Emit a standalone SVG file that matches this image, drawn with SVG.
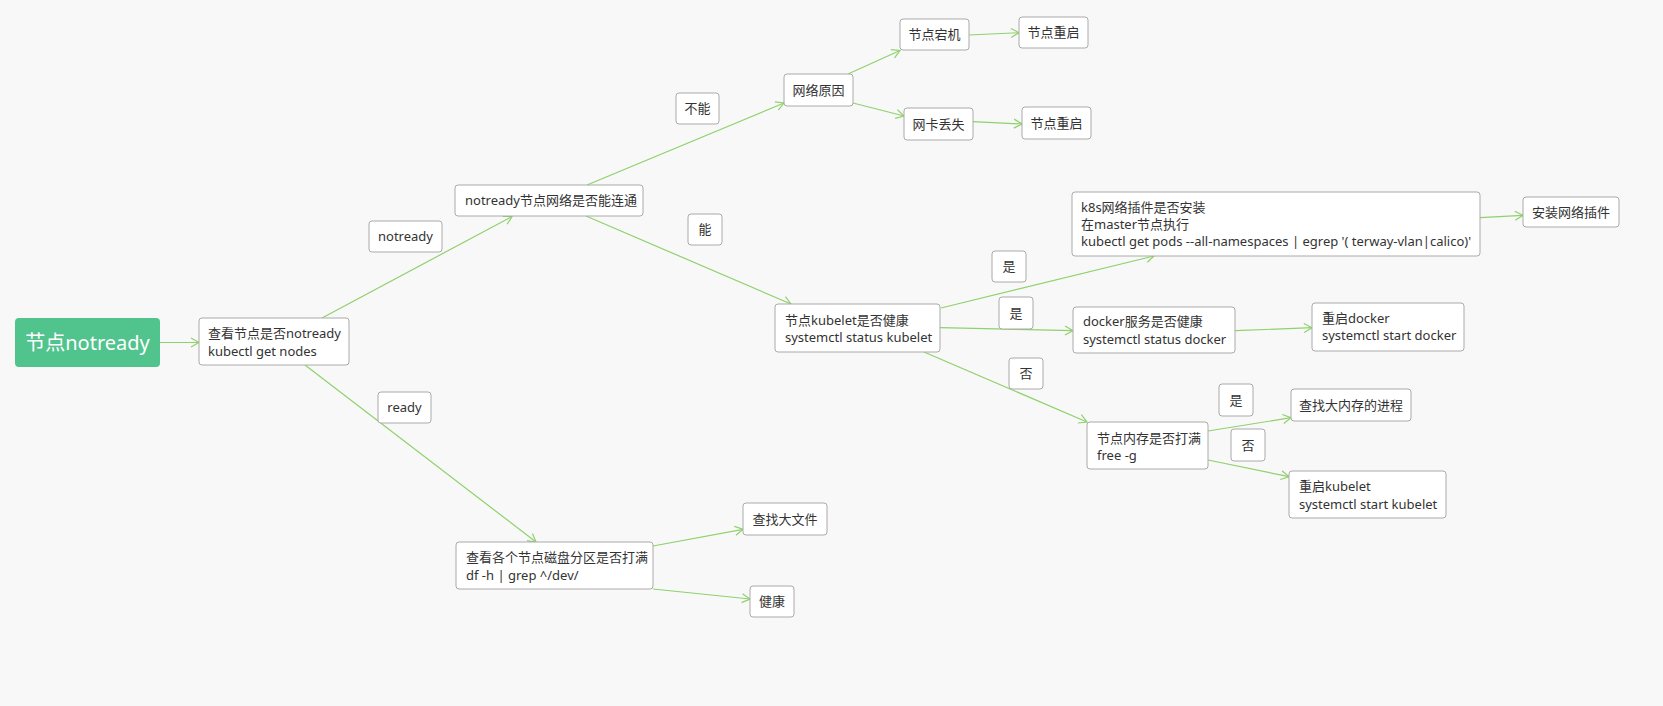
<svg xmlns="http://www.w3.org/2000/svg" width="1663" height="706" viewBox="0 0 1663 706">
<style>
.box{fill:#ffffff;stroke:#aaaaaa;stroke-width:1}
.t{font-family:"Noto Sans","Noto Sans CJK SC",sans-serif;font-size:13px;fill:#333333}
.edge{stroke:#8fd16c;stroke-width:1.2;fill:none;marker-end:url(#arr)}
</style>
<defs>
<marker id="arr" markerUnits="userSpaceOnUse" viewBox="-10 -6 12 12" refX="0" refY="0" markerWidth="12" markerHeight="12" orient="auto">
<path d="M-8,-4.5 L0,0 L-8,4.5" fill="none" stroke="#8fd16c" stroke-width="1.2"/>
</marker>
</defs>
<rect x="0" y="0" width="1663" height="706" fill="#f8f8f8"/>
<g id="connectors">
<line class="edge" x1="160" y1="342.5" x2="199" y2="342.5"/>
<line class="edge" x1="322" y1="318" x2="512" y2="216.5"/>
<line class="edge" x1="305" y1="365" x2="536" y2="542"/>
<line class="edge" x1="587" y1="185" x2="784" y2="103"/>
<line class="edge" x1="848" y1="74" x2="900" y2="50.5"/>
<line class="edge" x1="853" y1="103" x2="904" y2="116"/>
<line class="edge" x1="969" y1="35" x2="1019" y2="32.7"/>
<line class="edge" x1="973" y1="121.7" x2="1022" y2="124"/>
<line class="edge" x1="586" y1="216" x2="791" y2="304"/>
<line class="edge" x1="941" y1="308" x2="1154" y2="256"/>
<line class="edge" x1="940" y1="327.7" x2="1073" y2="330.7"/>
<line class="edge" x1="924" y1="352" x2="1087" y2="422"/>
<line class="edge" x1="1480" y1="217.7" x2="1523" y2="215.3"/>
<line class="edge" x1="1235" y1="330.7" x2="1312" y2="327.7"/>
<line class="edge" x1="1208" y1="431" x2="1291" y2="417.7"/>
<line class="edge" x1="1208" y1="460" x2="1289" y2="476.7"/>
<line class="edge" x1="653" y1="546" x2="743" y2="529.3"/>
<line class="edge" x1="653" y1="589" x2="750" y2="599"/>
</g>
<g id="root">
<rect x="15" y="318" width="145" height="49" rx="4" fill="#50c48c"/>
<text x="87.5" y="349.5" text-anchor="middle" style="font-family:'Noto Sans','Noto Sans CJK SC',sans-serif;font-size:20px;fill:#ffffff">节点notready</text>
</g>
<g id="n1">
<rect class="box" x="199" y="318" width="150" height="47" rx="3"/>
<text class="t" x="208" y="338">查看节点是否notready</text>
<text class="t" x="208" y="355.5">kubectl get nodes</text>
</g>
<g id="lbl-notready">
<rect class="box" x="369" y="221" width="73" height="31" rx="3"/>
<text class="t" x="405.5" y="241" text-anchor="middle">notready</text>
</g>
<g id="lbl-ready">
<rect class="box" x="378" y="392" width="53" height="31" rx="3"/>
<text class="t" x="404.5" y="412" text-anchor="middle">ready</text>
</g>
<g id="net">
<rect class="box" x="455" y="185" width="188" height="31" rx="3"/>
<text class="t" x="465" y="205">notready节点网络是否能连通</text>
</g>
<g id="lbl-buneng">
<rect class="box" x="676" y="93" width="43" height="31" rx="3"/>
<text class="t" x="697.5" y="113" text-anchor="middle">不能</text>
</g>
<g id="netcause">
<rect class="box" x="784" y="74" width="69" height="32" rx="3"/>
<text class="t" x="818.5" y="94.5" text-anchor="middle">网络原因</text>
</g>
<g id="down">
<rect class="box" x="900" y="19" width="69" height="31" rx="3"/>
<text class="t" x="934.5" y="39" text-anchor="middle">节点宕机</text>
</g>
<g id="reboot1">
<rect class="box" x="1019" y="17" width="69" height="31" rx="3"/>
<text class="t" x="1053.5" y="37" text-anchor="middle">节点重启</text>
</g>
<g id="nic">
<rect class="box" x="904" y="108" width="69" height="32" rx="3"/>
<text class="t" x="938.5" y="128.5" text-anchor="middle">网卡丢失</text>
</g>
<g id="reboot2">
<rect class="box" x="1022" y="107" width="69" height="32" rx="3"/>
<text class="t" x="1056.5" y="127.5" text-anchor="middle">节点重启</text>
</g>
<g id="lbl-neng">
<rect class="box" x="688" y="214" width="34" height="31" rx="3"/>
<text class="t" x="705" y="234" text-anchor="middle">能</text>
</g>
<g id="kubelet">
<rect class="box" x="775" y="304" width="165" height="48" rx="3"/>
<text class="t" x="785" y="324.5">节点kubelet是否健康</text>
<text class="t" x="785" y="342">systemctl status kubelet</text>
</g>
<g id="lbl-yes1">
<rect class="box" x="992" y="251" width="34" height="31" rx="3"/>
<text class="t" x="1009" y="271" text-anchor="middle">是</text>
</g>
<g id="lbl-yes2">
<rect class="box" x="999" y="297" width="34" height="32" rx="3"/>
<text class="t" x="1016" y="317.5" text-anchor="middle">是</text>
</g>
<g id="lbl-no1">
<rect class="box" x="1009" y="358" width="34" height="31" rx="3"/>
<text class="t" x="1026" y="378" text-anchor="middle">否</text>
</g>
<g id="k8s">
<rect class="box" x="1072" y="192" width="408" height="64" rx="3"/>
<text class="t" x="1081" y="212">k8s网络插件是否安装</text>
<text class="t" x="1081" y="229">在master节点执行</text>
<text class="t" x="1081" y="246">kubectl get pods --all-namespaces | egrep '( terway-vlan|calico)'</text>
</g>
<g id="install">
<rect class="box" x="1523" y="197" width="96" height="30" rx="3"/>
<text class="t" x="1571" y="216.5" text-anchor="middle">安装网络插件</text>
</g>
<g id="docker">
<rect class="box" x="1073" y="307" width="162" height="46" rx="3"/>
<text class="t" x="1083" y="326">docker服务是否健康</text>
<text class="t" x="1083" y="343.5">systemctl status docker</text>
</g>
<g id="restart-docker">
<rect class="box" x="1312" y="303" width="152" height="48" rx="3"/>
<text class="t" x="1322" y="322.5">重启docker</text>
<text class="t" x="1322" y="340">systemctl start docker</text>
</g>
<g id="mem">
<rect class="box" x="1087" y="422" width="121" height="47" rx="3"/>
<text class="t" x="1097" y="442.5">节点内存是否打满</text>
<text class="t" x="1097" y="459.5">free -g</text>
</g>
<g id="lbl-yes3">
<rect class="box" x="1219" y="384" width="34" height="32" rx="3"/>
<text class="t" x="1236" y="404.5" text-anchor="middle">是</text>
</g>
<g id="lbl-no2">
<rect class="box" x="1231" y="429" width="34" height="32" rx="3"/>
<text class="t" x="1248" y="449.5" text-anchor="middle">否</text>
</g>
<g id="findmem">
<rect class="box" x="1291" y="389" width="120" height="32" rx="3"/>
<text class="t" x="1351" y="409.5" text-anchor="middle">查找大内存的进程</text>
</g>
<g id="restart-kubelet">
<rect class="box" x="1289" y="471" width="157" height="47" rx="3"/>
<text class="t" x="1299" y="491">重启kubelet</text>
<text class="t" x="1299" y="508.5">systemctl start kubelet</text>
</g>
<g id="disk">
<rect class="box" x="456" y="542" width="197" height="47" rx="3"/>
<text class="t" x="466" y="562">查看各个节点磁盘分区是否打满</text>
<text class="t" x="466" y="579.5">df -h | grep ^/dev/</text>
</g>
<g id="findfile">
<rect class="box" x="743" y="503" width="84" height="32" rx="3"/>
<text class="t" x="785" y="523.5" text-anchor="middle">查找大文件</text>
</g>
<g id="healthy">
<rect class="box" x="750" y="586" width="44" height="31" rx="3"/>
<text class="t" x="772" y="606" text-anchor="middle">健康</text>
</g>
</svg>
